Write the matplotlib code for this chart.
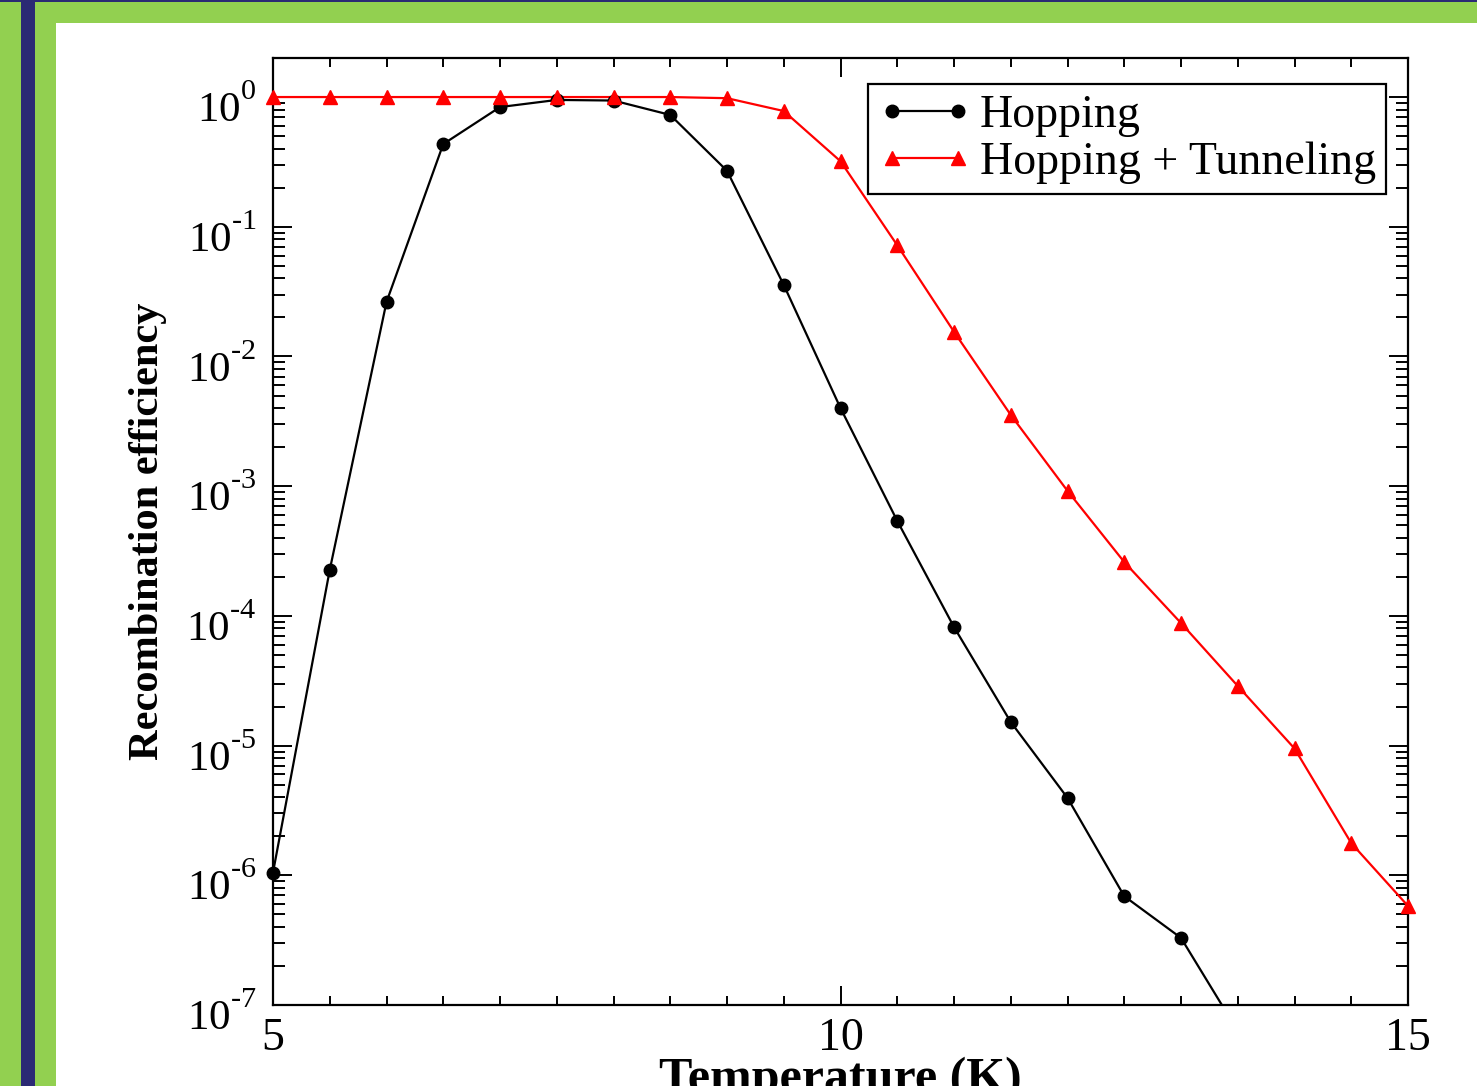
import numpy as np
import matplotlib
matplotlib.use("Agg")
import matplotlib.pyplot as plt
import matplotlib.transforms as mtrans
from matplotlib.lines import Line2D
from matplotlib.patches import Rectangle
from matplotlib.ticker import LogLocator, MultipleLocator, FixedLocator, NullFormatter
try:
    import matplotlib._mathtext as _mt
    _mt.FontConstantsBase.sup1 = 1.15
except Exception:
    pass

plt.rcParams['font.family'] = ['Liberation Serif', 'DejaVu Serif']
plt.rcParams['mathtext.fontset'] = 'custom'
plt.rcParams['mathtext.rm'] = 'Liberation Serif'
plt.rcParams['mathtext.it'] = 'Liberation Serif:italic'
plt.rcParams['mathtext.bf'] = 'Liberation Serif:bold'

# ---- data ----
temperature = [5.0, 5.5, 6.0, 6.5, 7.0, 7.5, 8.0, 8.5, 9.0, 9.5, 10.0, 10.5,
               11.0, 11.5, 12.0, 12.5, 13.0, 13.5, 14.0, 14.5, 15.0]
hopping = [1.05e-6, 2.26e-4, 2.63e-2, 0.434, 0.837, 0.95, 0.94, 0.728, 0.27,
           3.56e-2, 4.0e-3, 5.4e-4, 8.2e-5, 1.52e-5, 3.95e-6, 6.9e-7, 3.29e-7,
           6.3e-8]
hopping_T = temperature[:len(hopping)]
tunneling = [1.0, 1.0, 1.0, 1.0, 1.0, 1.0, 1.0, 1.0, 0.98, 0.78, 0.32, 0.072,
             1.55e-2, 3.54e-3, 9.2e-4, 2.6e-4, 8.8e-5, 2.88e-5, 9.5e-6,
             1.77e-6, 5.8e-7]
label_hop = "Hopping"
label_tun = "Hopping + Tunneling"
xlabel = "Temperature (K)"
ylabel = "Recombination efficiency"
xticks_major = [5, 10, 15]
ymin, ymax = 1e-7, 2.0

W, H = 1477, 1086
fig = plt.figure(figsize=(W / 100, H / 100), dpi=100)
fig.patch.set_facecolor('white')

green = '#92D050'
navy = '#2B2A74'
# decorative frame
fig.add_artist(Rectangle((0, 0), 56 / W, 1, transform=fig.transFigure,
                         facecolor=green, edgecolor='none', zorder=0))
fig.add_artist(Rectangle((0, 1 - 23 / H), 1, 23 / H, transform=fig.transFigure,
                         facecolor=green, edgecolor='none', zorder=0))
fig.add_artist(Rectangle((21 / W, 0), 13.5 / W, 1, transform=fig.transFigure,
                         facecolor=navy, edgecolor='none', zorder=0.1))
fig.add_artist(Rectangle((0, 1 - 2 / H), 1, 2 / H, transform=fig.transFigure,
                         facecolor=navy, edgecolor='none', zorder=0.1))

ax = fig.add_axes([273 / W, 1 - 1005 / H, (1408 - 273) / W, (1005 - 58) / H])
ax.set_facecolor('white')

# lines (clipped)
ax.plot(hopping_T, hopping, color='black', lw=1.6, zorder=3)
ax.plot(temperature, tunneling, color='red', lw=1.6, zorder=3)
# markers (not clipped, only within range)
hT = np.array(hopping_T); hv = np.array(hopping)
m = hv >= ymin
ax.plot(hT[m], hv[m], ls='none', marker='o', ms=9, color='black',
        clip_on=False, zorder=4)
tT = np.array(temperature); tv = np.array(tunneling)
m2 = tv >= ymin
ax.plot(tT[m2], tv[m2], ls='none', marker='^', ms=10, color='red',
        clip_on=False, zorder=4)

ax.set_yscale('log')
ax.set_xlim(5, 15)
ax.set_ylim(ymin, ymax)

ax.xaxis.set_major_locator(FixedLocator(xticks_major))
ax.xaxis.set_minor_locator(MultipleLocator(0.5))
ax.yaxis.set_major_locator(LogLocator(base=10, numticks=20))
ax.yaxis.set_minor_locator(LogLocator(base=10, subs=np.arange(2, 10), numticks=20))
ax.yaxis.set_minor_formatter(NullFormatter())
ax.set_xticklabels([str(v) for v in xticks_major])


def yfmt(v, p):
    e = int(round(np.log10(v)))
    s = str(e).replace('-', '\u2010')
    return r'$\mathregular{10^{%s}}$' % s


ax.yaxis.set_major_formatter(plt.FuncFormatter(yfmt))

for s in ax.spines.values():
    s.set_linewidth(1.6)
ax.tick_params(which='both', direction='in', top=True, right=True,
               width=1.4, colors='black')
ax.tick_params(axis='x', labelsize=33)
ax.tick_params(axis='y', labelsize=31)
ax.tick_params(which='major', length=14)
ax.tick_params(axis='x', which='minor', length=6.5)
ax.tick_params(axis='y', which='minor', length=8.5)
ax.tick_params(axis='y', which='major', pad=12)
ax.tick_params(axis='x', which='major', pad=9)
shift = mtrans.ScaledTranslation(0, -5 / 72, fig.dpi_scale_trans)
for t in ax.yaxis.get_majorticklabels():
    t.set_transform(t.get_transform() + shift)

ax.set_ylabel(ylabel, fontsize=30.5, fontweight='bold', labelpad=14)
fig.text(840 / W, 1 - 1057 / H, xlabel, fontsize=36, fontweight='bold',
         ha='center', va='top')

handles = [
    Line2D([0], [0], color='black', lw=1.6, marker='o', ms=9),
    Line2D([0], [0], color='red', lw=1.6, marker='^', ms=10),
]
leg = ax.legend(handles, [label_hop, label_tun], loc='upper right',
                bbox_to_anchor=((1386 - 273) / 1135, (1005 - 84) / 947),
                borderaxespad=0, fontsize=33, numpoints=2, handlelength=2.05,
                handletextpad=0.17, labelspacing=0.1, borderpad=0.22,
                fancybox=False, framealpha=1, edgecolor='black')
leg.get_frame().set_linewidth(1.6)

fig.savefig('out.png', dpi=100, facecolor=fig.get_facecolor())
